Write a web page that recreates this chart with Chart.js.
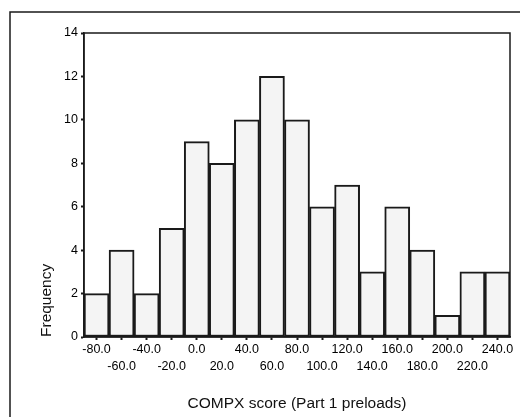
<!DOCTYPE html>
<html>
<head>
<meta charset="utf-8">
<script src="https://cdn.jsdelivr.net/npm/chart.js@4.4.1/dist/chart.umd.min.js"></script>
<style>
  html, body { margin: 0; padding: 0; background: #fff; }
</style>
</head>
<body>
<canvas id="histChart" width="520" height="417"></canvas>
<script>
// bin midpoints of the COMPX score histogram
const binLabels = ["-80.0", "-60.0", "-40.0", "-20.0", "0.0", "20.0", "40.0", "60.0", "80.0",
  "100.0", "120.0", "140.0", "160.0", "180.0", "200.0", "220.0", "240.0"];
const frequencies = [2, 4, 2, 5, 9, 8, 10, 12, 10, 6, 7, 3, 6, 4, 1, 3, 3];

const inkColor = "#1a1a1a";
const fontFamily = "'Liberation Sans', Arial, sans-serif";

// box round the plot area plus the outer panel edge
const framePlugin = {
  id: "frame",
  afterDraw(chart) {
    const { ctx, chartArea: a } = chart;
    ctx.save();
    ctx.strokeStyle = inkColor;
    ctx.lineWidth = 1.5;
    ctx.strokeRect(a.left, a.top, a.right - a.left, a.bottom - a.top);
    ctx.strokeRect(10, 12, 600, 500);
    ctx.restore();
  }
};

new Chart(document.getElementById("histChart").getContext("2d"), {
  type: "bar",
  data: {
    labels: binLabels,
    datasets: [{
      data: frequencies,
      backgroundColor: "#f4f4f4",
      borderColor: inkColor,
      borderWidth: 2,
      borderSkipped: false,
      categoryPercentage: 1,
      barPercentage: 1,
    }],
  },
  options: {
    responsive: false,
    animation: false,
    layout: { padding: { left: 0, top: 33, right: 10, bottom: 0 } },
    plugins: {
      legend: { display: false },
      tooltip: { enabled: false },
    },
    scales: {
      x: {
        afterFit: (scale) => { scale.height = 80; },
        grid: {
          offset: false,
          drawOnChartArea: false,
          tickLength: 3,
          tickWidth: 2,
          color: inkColor,
        },
        border: { display: true, color: inkColor, width: 1.5 },
        ticks: {
          autoSkip: false,
          maxRotation: 0,
          padding: 1,
          color: "#000",
          font: { family: fontFamily, size: 12.5, lineHeight: 1.35 },
          // every other label drops to a second row
          callback: (value, index) => index % 2 === 0 ? binLabels[index] : ["", binLabels[index]],
        },
        title: {
          display: true,
          text: "COMPX score (Part 1 preloads)",
          color: "#111",
          font: { family: fontFamily, size: 15.5 },
          padding: { top: 0, bottom: 4 },
        },
      },
      y: {
        min: 0,
        max: 14,
        afterFit: (scale) => { scale.width = 84; },
        grid: {
          drawOnChartArea: false,
          tickLength: 3,
          tickWidth: 2,
          color: inkColor,
        },
        border: { display: true, color: inkColor, width: 1.5 },
        ticks: {
          stepSize: 2,
          padding: 3,
          color: "#000",
          font: { family: fontFamily, size: 12.5 },
        },
        title: {
          display: true,
          text: "Frequency",
          align: "start",
          color: "#111",
          font: { family: fontFamily, size: 15.5 },
          padding: { top: 37, bottom: 0 },
        },
      },
    },
  },
  plugins: [framePlugin],
});
</script>
</body>
</html>
